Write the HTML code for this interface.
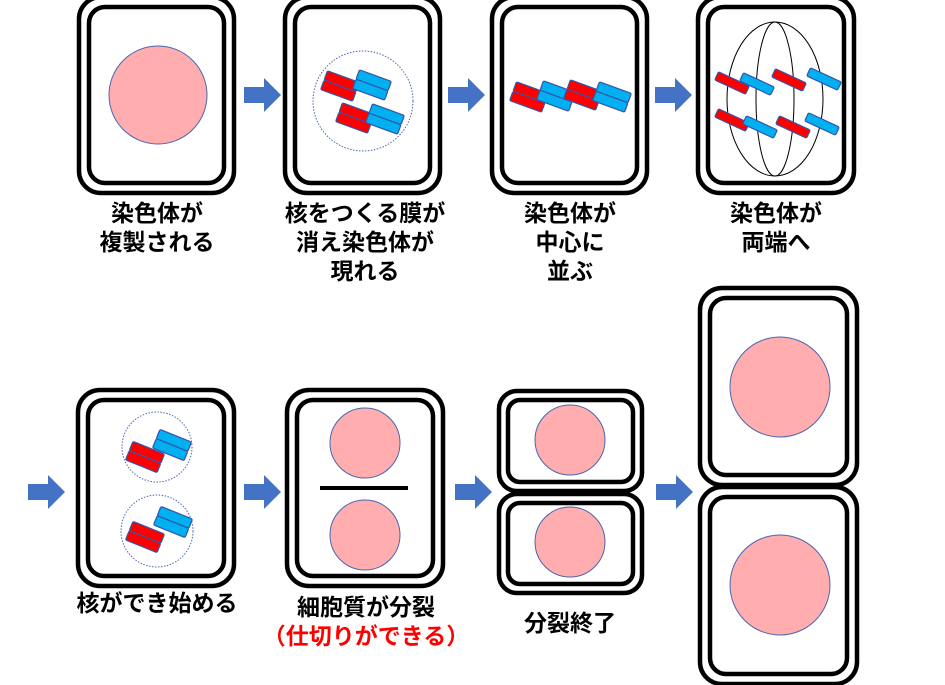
<!DOCTYPE html>
<html><head><meta charset="utf-8"><style>
html,body{margin:0;padding:0;background:#fff;width:945px;height:685px;overflow:hidden}
svg text{font-family:"Liberation Sans","Noto Sans CJK JP",sans-serif;font-weight:bold;font-size:23px;text-anchor:middle}
</style></head><body>
<svg width="945" height="685" viewBox="0 0 945 685" xmlns="http://www.w3.org/2000/svg">
<defs>
<g id="pr"><rect x="-17" y="-10" width="34" height="10" rx="1.5" fill="#f00" stroke="#3355aa" stroke-width="1.2"/><rect x="-17" y="0" width="34" height="10" rx="1.5" fill="#f00" stroke="#3355aa" stroke-width="1.2"/></g>
<g id="pb"><rect x="-17" y="-10" width="34" height="10" rx="1.5" fill="#00b0f0" stroke="#3355aa" stroke-width="1.2"/><rect x="-17" y="0" width="34" height="10" rx="1.5" fill="#00b0f0" stroke="#3355aa" stroke-width="1.2"/></g>
<rect id="sr" x="-17" y="-4.5" width="34" height="9" rx="1.5" fill="#f00" stroke="#3355aa" stroke-width="1.2"/>
<rect id="sb" x="-17" y="-4.5" width="34" height="9" rx="1.5" fill="#00b0f0" stroke="#3355aa" stroke-width="1.2"/>
<path id="ar" d="M0,-8 H20 V-17 L37,0 L20,17 V8 H0 Z" fill="#4472c4"/>
</defs>
<g fill="none" stroke="#000" stroke-width="4.5">
<rect x="79" y="-3" width="155" height="196" rx="22"/><rect x="89" y="7" width="135" height="176" rx="16"/>
<rect x="285" y="-3" width="155" height="196" rx="22"/><rect x="295" y="7" width="135" height="176" rx="16"/>
<rect x="492" y="-3" width="155" height="196" rx="22"/><rect x="502" y="7" width="135" height="176" rx="16"/>
<rect x="698" y="-3" width="156" height="196" rx="22"/><rect x="708" y="7" width="136" height="176" rx="16"/>
<rect x="78" y="390" width="156" height="196" rx="22"/><rect x="88" y="400" width="136" height="176" rx="16"/>
<rect x="287" y="390" width="156" height="196" rx="22"/><rect x="297" y="400" width="136" height="176" rx="16"/>
<rect x="499" y="391" width="143" height="100" rx="18"/><rect x="508" y="400" width="125" height="82" rx="12"/>
<rect x="499" y="494" width="143" height="99" rx="18"/><rect x="508" y="503" width="125" height="81" rx="12"/>
<rect x="700" y="288" width="157" height="197" rx="22"/><rect x="710" y="298" width="137" height="177" rx="16"/>
<rect x="700" y="487" width="157" height="197" rx="22"/><rect x="710" y="497" width="137" height="177" rx="16"/>
</g>
<g fill="#ffadae" stroke="#4a66b0" stroke-width="1">
<circle cx="158" cy="95" r="49"/>
<circle cx="365" cy="443" r="35"/><circle cx="365" cy="535" r="35"/>
<circle cx="570" cy="440" r="35"/><circle cx="570" cy="542" r="35"/>
<circle cx="780" cy="387" r="50"/><circle cx="780" cy="585" r="50"/>
</g>
<line x1="320" y1="488" x2="408" y2="488" stroke="#000" stroke-width="4"/>
<g fill="none" stroke="#4a66b0" stroke-width="1" stroke-dasharray="1.5 1.5">
<circle cx="363" cy="101" r="50"/>
<circle cx="157" cy="447" r="35"/><circle cx="157" cy="531" r="36"/>
</g>
<g fill="none" stroke="#000" stroke-width="1">
<ellipse cx="775" cy="99" rx="48" ry="77"/><ellipse cx="775" cy="99" rx="19" ry="77"/>
</g>
<use href="#pr" transform="translate(340,86) rotate(20)"/><use href="#pb" transform="translate(372,85) rotate(20)"/>
<use href="#pr" transform="translate(355,118) rotate(20)"/><use href="#pb" transform="translate(385,119) rotate(20)"/>
<use href="#pr" transform="translate(529,97) rotate(20)"/><use href="#pb" transform="translate(556,96) rotate(20)"/>
<use href="#pr" transform="translate(583,95) rotate(20)"/><use href="#pb" transform="translate(612,97) rotate(20)"/>
<use href="#sr" transform="translate(732,83) rotate(25)"/><use href="#sb" transform="translate(757,84) rotate(25)"/>
<use href="#sr" transform="translate(789,80) rotate(25)"/><use href="#sb" transform="translate(824,79) rotate(25)"/>
<use href="#sr" transform="translate(732,120) rotate(25)"/><use href="#sb" transform="translate(760,127) rotate(25)"/>
<use href="#sr" transform="translate(793,127) rotate(25)"/><use href="#sb" transform="translate(822,124) rotate(25)"/>
<use href="#pr" transform="translate(145,457) rotate(22)"/><use href="#pb" transform="translate(172,445) rotate(22)"/>
<use href="#pr" transform="translate(145,537) rotate(22)"/><use href="#pb" transform="translate(173,522) rotate(22)"/>
<use href="#ar" x="244" y="95"/><use href="#ar" x="448" y="95"/><use href="#ar" x="655" y="95"/>
<use href="#ar" x="28" y="492"/><use href="#ar" x="244" y="492"/><use href="#ar" x="455" y="492"/><use href="#ar" x="656" y="492"/>
<text x="157" y="221">染色体が</text><text x="157" y="250">複製される</text>
<text x="365" y="221">核をつくる膜が</text><text x="365" y="250">消え染色体が</text><text x="365" y="279">現れる</text>
<text x="570" y="221">染色体が</text><text x="570" y="250">中心に</text><text x="570" y="279">並ぶ</text>
<text x="776" y="221">染色体が</text><text x="776" y="250">両端へ</text>
<text x="157" y="611">核ができ始める</text>
<text x="366" y="615">細胞質が分裂</text>
<text x="366" y="644" fill="#f00">（仕切りができる）</text>
<text x="570" y="631">分裂終了</text>
</svg>
</body></html>
